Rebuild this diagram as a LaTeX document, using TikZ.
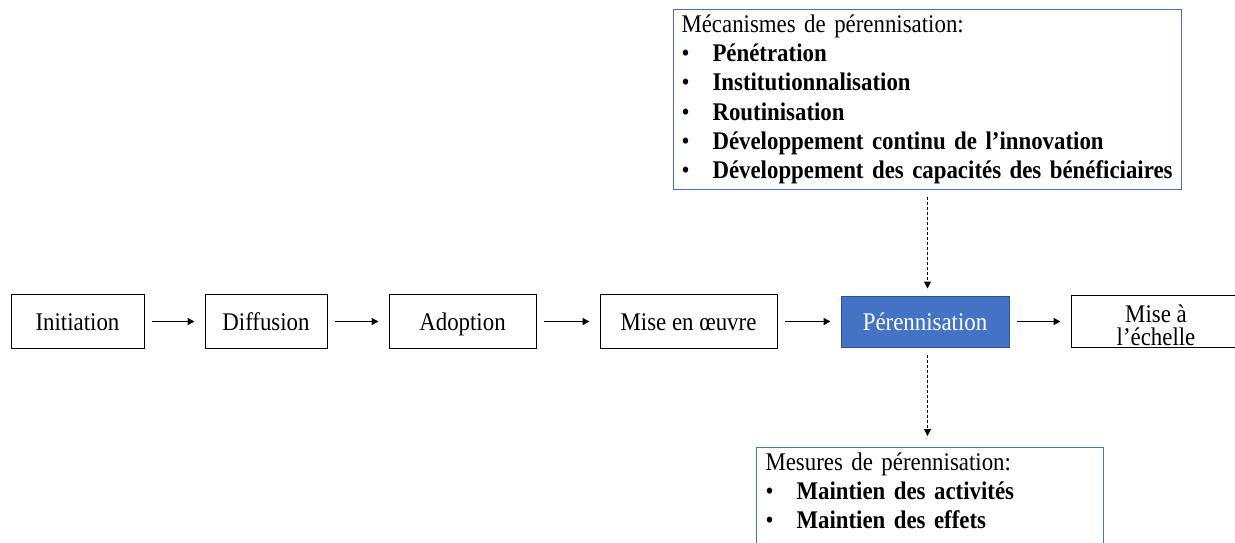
\documentclass[tikz,border=0pt]{standalone}
\usepackage{fontspec}
\setmainfont{Liberation Serif}[FakeStretch=0.9]
\usepackage{xcolor}
\usetikzlibrary{arrows.meta, positioning}

\definecolor{bleu}{HTML}{4472C4}
\definecolor{bleufonce}{HTML}{2F528F}
\newcommand{\puce}[1]{\makebox[31pt][l]{\textbullet}\mbox{\textbf{#1}}}

\begin{document}
\begin{tikzpicture}[->,>={Triangle[length=7pt,width=7pt]},x=1pt,y=-1pt,thin,
    every node/.style={font=\fontsize{25.4}{29.2}\selectfont}]
            \tikzset{etape/.style={draw, -, line width=1pt, minimum height=54pt, inner sep=0pt, text height=17pt, text depth=0pt},
                     encadre/.style={draw=bleu, -, line width=1pt, anchor=north west, align=left, inner xsep=8pt, inner ysep=2.5pt},
                     fleche/.style={line width=1.5pt, shorten <=7pt, shorten >=10pt},
                     pointille/.style={dash pattern=on 3pt off 2pt, line width=1pt, shorten <=7pt, shorten >=7pt}}
            \useasboundingbox (0,0) rectangle (1235,542);
            % the chain of stages
            \node[etape, minimum width=133pt] (init) at (77.5,321.5) {Initiation};
            \node[etape, minimum width=122pt, right=60pt of init] (diff) {Diffusion};
            \node[etape, minimum width=147pt, right=61pt of diff] (adop) {Adoption};
            \node[etape, minimum width=177pt, right=63pt of adop] (mise) {Mise en œuvre};
            \node[etape, minimum width=168pt, minimum height=51pt, fill=bleu, draw=bleufonce, text=white, right=63pt of mise] (peren) {Pérennisation};
            \node[etape, minimum width=170pt, minimum height=52pt, align=center, text height=, text depth=, font=\fontsize{25.4}{23}\selectfont, right=61pt of peren] (echelle) {\rule{0pt}{25pt}Mise à\\l’échelle};
            % boxes above and below
            \node[encadre, text width=492pt] (mecan) at (673,9) {\strut Mécanismes de pérennisation:\\
                \puce{Pénétration}\\
                \puce{Institutionnalisation}\\
                \puce{Routinisation}\\
                \puce{Développement continu de l’innovation}\\
                \puce{Développement des capacités des bénéficiaires}\strut};
            \node[encadre, text width=329pt, inner xsep=9pt] (mesures) at (756,447) {\strut Mesures de pérennisation:\\
                \puce{Maintien des activités}\\
                \puce{Maintien des effets}\rule[-40pt]{0pt}{40pt}};
            \path (init) edge[fleche] (diff);
            \path (diff) edge[fleche] (adop);
            \path (adop) edge[fleche] (mise);
            \path (mise) edge[fleche] (peren);
            \path (peren) edge[fleche] (echelle);
            \path (mecan.south) edge[pointille] (mecan.south |- peren.north);
            \path (peren.south -| mecan.south) edge[pointille, shorten >=11pt] (mecan.south |- mesures.north);
\end{tikzpicture}
\end{document}
